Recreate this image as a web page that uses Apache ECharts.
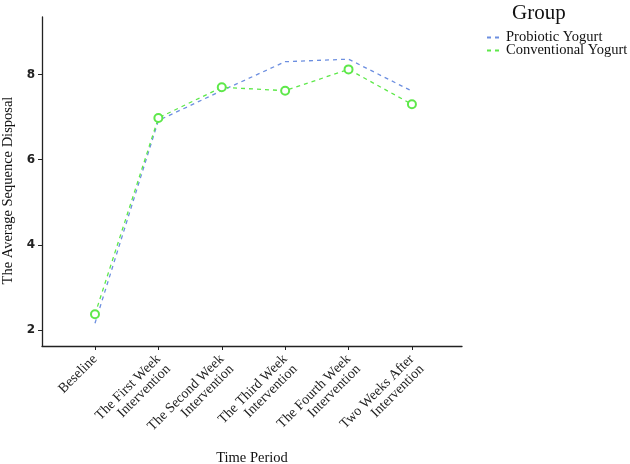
<!DOCTYPE html>
<html><head><meta charset="utf-8">
<script src="https://cdn.jsdelivr.net/npm/echarts@6/dist/echarts.min.js"></script>
<style>html,body{margin:0;padding:0;background:#fff}#c{width:630px;height:464px}</style>
</head><body><div id="c"></div>
<script>
const categories = ['Beseline', 'The First Week\nIntervention', 'The Second Week\nIntervention', 'The Third Week\nIntervention', 'The Fourth Week\nIntervention', 'Two Weeks After\nIntervention'];
const probiotic = [2.16, 6.92, 7.62, 8.30, 8.36, 7.61];
const conventional = [2.37, 6.98, 7.70, 7.62, 8.12, 7.30];
const yTicks = [2, 4, 6, 8];
const seriesNames = ['Probiotic Yogurt', 'Conventional Yogurt'];

const font = 'Liberation Serif';
const chart = echarts.init(document.getElementById('c'), null, {renderer: 'canvas'});
const toPairs = arr => arr.map((v, i) => [i, v]);
chart.setOption({
  animation: false,
  textStyle: {fontFamily: font},
  title: {text: 'Group', left: 507, top: -2, textStyle: {fontFamily: font, fontSize: 21, fontWeight: 'normal', color: '#111'}},
  legend: {
    orient: 'vertical', left: 481, top: 25, itemGap: -2, itemWidth: 16, itemHeight: 12,
    data: seriesNames, itemStyle: {opacity: 0},
    textStyle: {fontFamily: font, fontSize: 14.5, color: '#111', padding: [0, 0, 0, -2]}
  },
  grid: {left: 42, right: 168, top: 17, bottom: 118, containLabel: false, outerBoundsMode: 'none'},
  xAxis: {
    type: 'value', min: -0.836, max: 5.79,
    name: 'Time Period', nameLocation: 'middle', nameGap: 101,
    nameTextStyle: {fontFamily: font, fontSize: 14.5, color: '#111'},
    axisLine: {show: true, onZero: false, lineStyle: {color: '#222', width: 1.3}},
    axisTick: {show: true, customValues: [0, 1, 2, 3, 4, 5], length: 4, lineStyle: {color: '#222'}},
    axisLabel: {customValues: [0, 1, 2, 3, 4, 5], rotate: 45, margin: 11, fontFamily: font, fontSize: 14, color: '#222', lineHeight: 14,
      formatter: v => {
        const t = categories[Math.round(v)] || '';
        return t.indexOf('\n') >= 0 ? '\n' + t : t;
      }},
    splitLine: {show: false}
  },
  yAxis: {
    type: 'value', min: 1.625, max: 9.35,
    name: 'The Average Sequence Disposal', nameLocation: 'middle', nameGap: 21,
    nameTextStyle: {fontFamily: font, fontSize: 14.5, color: '#111', padding: [0, 18, 0, 0]},
    axisLine: {show: true, onZero: false, lineStyle: {color: '#222', width: 1.3}},
    axisTick: {show: true, customValues: yTicks, length: 4, lineStyle: {color: '#222'}},
    axisLabel: {customValues: yTicks, margin: 7, fontFamily: 'DejaVu Sans', fontSize: 12, fontWeight: 'bold', color: '#222'},
    splitLine: {show: false}
  },
  series: [
    {name: seriesNames[0], type: 'line', data: toPairs(probiotic), showSymbol: false, symbol: 'none',
      color: '#6d8fe0', lineStyle: {type: [4, 4], width: 1.3, color: '#6d8fe0'}},
    {name: seriesNames[1], type: 'line', data: toPairs(conventional), symbol: 'emptyCircle', symbolSize: 8,
      color: '#5ee84a', itemStyle: {color: '#5ee84a', borderWidth: 1},
      lineStyle: {type: [4, 4], width: 1.3, color: '#5ee84a'}}
  ]
});
</script></body></html>
